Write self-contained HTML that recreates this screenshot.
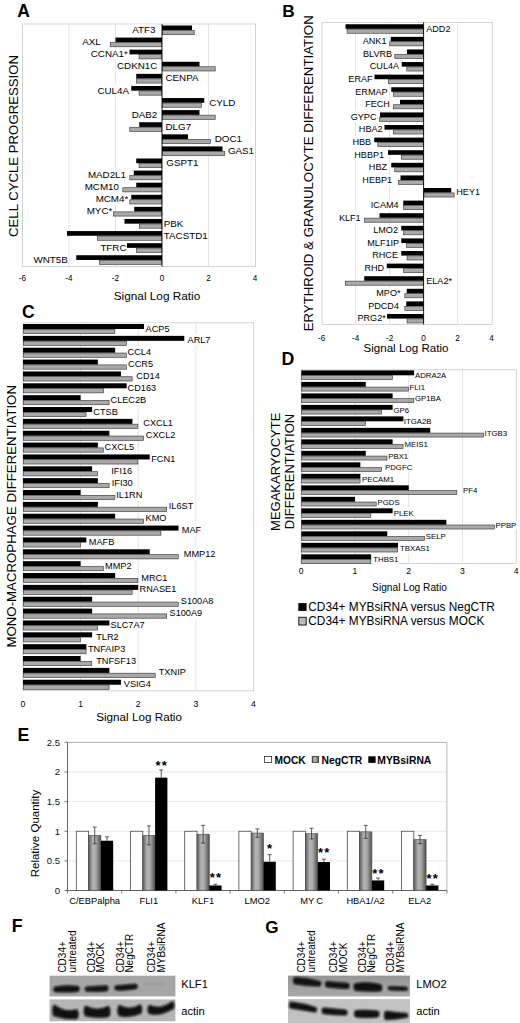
<!DOCTYPE html>
<html><head><meta charset="utf-8"><title>Figure</title>
<style>
html,body{margin:0;padding:0;background:#fff;}
body{width:520px;height:1023px;overflow:hidden;}
svg{display:block;font-family:"Liberation Sans",sans-serif;}
text{stroke:none;}
text[font-weight="bold"]{stroke:none;}
</style></head><body>
<svg width="520" height="1023" viewBox="0 0 520 1023">
<defs>
<linearGradient id="gg" x1="0" y1="0" x2="1" y2="0">
<stop offset="0" stop-color="#5a5a5a"/><stop offset="0.35" stop-color="#b4b4b4"/><stop offset="0.6" stop-color="#a8a8a8"/><stop offset="1" stop-color="#505050"/>
</linearGradient>
<filter id="blur" x="-30%" y="-100%" width="160%" height="300%"><feGaussianBlur stdDeviation="1.1"/></filter>
<linearGradient id="gb1" x1="0" y1="0" x2="0" y2="1"><stop offset="0" stop-color="#959595"/><stop offset="0.5" stop-color="#a2a2a2"/><stop offset="1" stop-color="#a8a8a8"/></linearGradient>
</defs>
<rect width="520" height="1023" fill="#fff"/>
<rect x="22.6" y="24" width="233" height="242.5" fill="none" stroke="#c8c8c8" stroke-width="0.8"/>
<line x1="69" y1="24" x2="69" y2="266.5" stroke="#dcdcdc" stroke-width="0.8"/>
<line x1="115.5" y1="24" x2="115.5" y2="266.5" stroke="#dcdcdc" stroke-width="0.8"/>
<line x1="208.5" y1="24" x2="208.5" y2="266.5" stroke="#dcdcdc" stroke-width="0.8"/>
<rect x="131.87" y="23.79" width="23.83" height="12.25" fill="#fff"/>
<rect x="81.98" y="35.88" width="19.12" height="12.25" fill="#fff"/>
<rect x="90.47" y="47.97" width="37.63" height="12.25" fill="#fff"/>
<rect x="116.7" y="60.07" width="40.9" height="12.25" fill="#fff"/>
<rect x="165.2" y="72.16" width="33.64" height="12.25" fill="#fff"/>
<rect x="97.11" y="84.25" width="32.19" height="12.25" fill="#fff"/>
<rect x="208.9" y="96.34" width="26.74" height="12.25" fill="#fff"/>
<rect x="131.4" y="108.43" width="26.2" height="12.25" fill="#fff"/>
<rect x="165.2" y="120.53" width="26.2" height="12.25" fill="#fff"/>
<rect x="214.5" y="132.62" width="27.83" height="12.25" fill="#fff"/>
<rect x="227.6" y="144.71" width="26.75" height="12.25" fill="#fff"/>
<rect x="166" y="156.8" width="32.73" height="12.25" fill="#fff"/>
<rect x="87.57" y="168.9" width="38.73" height="12.25" fill="#fff"/>
<rect x="84.4" y="180.99" width="34.9" height="12.25" fill="#fff"/>
<rect x="95.33" y="193.08" width="33.27" height="12.25" fill="#fff"/>
<rect x="86.41" y="205.17" width="26.19" height="12.25" fill="#fff"/>
<rect x="163.5" y="217.26" width="20.21" height="12.25" fill="#fff"/>
<rect x="163.5" y="229.36" width="44.52" height="12.25" fill="#fff"/>
<rect x="100.07" y="241.45" width="26.73" height="12.25" fill="#fff"/>
<rect x="33.2" y="253.54" width="34.9" height="12.25" fill="#fff"/>
<rect x="162" y="25.5" width="30" height="4.7" fill="#000"/>
<rect x="162.3" y="30.5" width="31.9" height="4.2" fill="#a9a9a9" stroke="#303030" stroke-width="0.6"/>
<text x="155.4" y="33.1" font-size="9.8" text-anchor="end">ATF3</text>
<rect x="115.5" y="37.59" width="46.5" height="4.7" fill="#000"/>
<rect x="110.3" y="42.59" width="51.4" height="4.2" fill="#a9a9a9" stroke="#303030" stroke-width="0.6"/>
<text x="100.8" y="45.19" font-size="9.8" text-anchor="end">AXL</text>
<rect x="129.5" y="49.68" width="32.5" height="4.7" fill="#000"/>
<rect x="139.05" y="54.68" width="22.65" height="4.2" fill="#a9a9a9" stroke="#303030" stroke-width="0.6"/>
<text x="127.8" y="57.28" font-size="9.8" text-anchor="end">CCNA1*</text>
<rect x="162" y="61.78" width="37.5" height="4.7" fill="#000"/>
<rect x="162.3" y="66.78" width="52.9" height="4.2" fill="#a9a9a9" stroke="#303030" stroke-width="0.6"/>
<text x="157.3" y="69.38" font-size="9.8" text-anchor="end">CDKN1C</text>
<rect x="136.25" y="73.87" width="25.75" height="4.7" fill="#000"/>
<rect x="136.3" y="78.87" width="25.4" height="4.2" fill="#a9a9a9" stroke="#303030" stroke-width="0.6"/>
<text x="165.5" y="81.47" font-size="9.8">CENPA</text>
<rect x="131.25" y="85.96" width="30.75" height="4.7" fill="#000"/>
<rect x="139.05" y="90.96" width="22.65" height="4.2" fill="#a9a9a9" stroke="#303030" stroke-width="0.6"/>
<text x="129" y="93.56" font-size="9.8" text-anchor="end">CUL4A</text>
<rect x="162" y="98.05" width="42.25" height="4.7" fill="#000"/>
<rect x="162.3" y="103.05" width="39.15" height="4.2" fill="#a9a9a9" stroke="#303030" stroke-width="0.6"/>
<text x="209.2" y="105.65" font-size="9.8">CYLD</text>
<rect x="162" y="110.14" width="37.5" height="4.7" fill="#000"/>
<rect x="162.3" y="115.14" width="52.9" height="4.2" fill="#a9a9a9" stroke="#303030" stroke-width="0.6"/>
<text x="157.3" y="117.74" font-size="9.8" text-anchor="end">DAB2</text>
<rect x="139.25" y="122.24" width="22.75" height="4.7" fill="#000"/>
<rect x="129.8" y="127.24" width="31.9" height="4.2" fill="#a9a9a9" stroke="#303030" stroke-width="0.6"/>
<text x="165.5" y="129.84" font-size="9.8">DLG7</text>
<rect x="162" y="134.33" width="26" height="4.7" fill="#000"/>
<rect x="162.3" y="139.33" width="48.15" height="4.2" fill="#a9a9a9" stroke="#303030" stroke-width="0.6"/>
<text x="214.8" y="141.93" font-size="9.8">DOC1</text>
<rect x="162" y="146.42" width="60.5" height="4.7" fill="#000"/>
<rect x="162.3" y="151.42" width="62.4" height="4.2" fill="#a9a9a9" stroke="#303030" stroke-width="0.6"/>
<text x="227.9" y="154.02" font-size="9.8">GAS1</text>
<rect x="136.25" y="158.51" width="25.75" height="4.7" fill="#000"/>
<rect x="139.05" y="163.51" width="22.65" height="4.2" fill="#a9a9a9" stroke="#303030" stroke-width="0.6"/>
<text x="166.3" y="166.11" font-size="9.8">GSPT1</text>
<rect x="133.75" y="170.61" width="28.25" height="4.7" fill="#000"/>
<rect x="129.8" y="175.61" width="31.9" height="4.2" fill="#a9a9a9" stroke="#303030" stroke-width="0.6"/>
<text x="126" y="178.21" font-size="9.8" text-anchor="end">MAD2L1</text>
<rect x="136.25" y="182.7" width="25.75" height="4.7" fill="#000"/>
<rect x="122.8" y="187.7" width="38.9" height="4.2" fill="#a9a9a9" stroke="#303030" stroke-width="0.6"/>
<text x="119" y="190.3" font-size="9.8" text-anchor="end">MCM10</text>
<rect x="131.25" y="194.79" width="30.75" height="4.7" fill="#000"/>
<rect x="129.8" y="199.79" width="31.9" height="4.2" fill="#a9a9a9" stroke="#303030" stroke-width="0.6"/>
<text x="128.3" y="202.39" font-size="9.8" text-anchor="end">MCM4*</text>
<rect x="134.25" y="206.88" width="27.75" height="4.7" fill="#000"/>
<rect x="113.3" y="211.88" width="48.4" height="4.2" fill="#a9a9a9" stroke="#303030" stroke-width="0.6"/>
<text x="112.3" y="214.48" font-size="9.8" text-anchor="end">MYC*</text>
<rect x="124.5" y="218.97" width="37.5" height="4.7" fill="#000"/>
<rect x="139.3" y="223.97" width="22.4" height="4.2" fill="#a9a9a9" stroke="#303030" stroke-width="0.6"/>
<text x="163.8" y="226.57" font-size="9.8">PBK</text>
<rect x="67" y="231.07" width="95" height="4.7" fill="#000"/>
<rect x="97.3" y="236.07" width="64.4" height="4.2" fill="#a9a9a9" stroke="#303030" stroke-width="0.6"/>
<text x="163.8" y="238.67" font-size="9.8">TACSTD1</text>
<rect x="127" y="243.16" width="35" height="4.7" fill="#000"/>
<rect x="136.55" y="248.16" width="25.15" height="4.2" fill="#a9a9a9" stroke="#303030" stroke-width="0.6"/>
<text x="126.5" y="250.76" font-size="9.8" text-anchor="end">TFRC</text>
<rect x="76.25" y="255.25" width="85.75" height="4.7" fill="#000"/>
<rect x="99.55" y="260.25" width="62.15" height="4.2" fill="#a9a9a9" stroke="#303030" stroke-width="0.6"/>
<text x="67.8" y="262.85" font-size="9.8" text-anchor="end">WNT5B</text>
<line x1="162" y1="24" x2="162" y2="266.5" stroke="#000" stroke-width="0.9"/>
<text x="22.5" y="281.2" font-size="8.2" text-anchor="middle">-6</text>
<text x="69" y="281.2" font-size="8.2" text-anchor="middle">-4</text>
<text x="115.5" y="281.2" font-size="8.2" text-anchor="middle">-2</text>
<text x="162" y="281.2" font-size="8.2" text-anchor="middle">0</text>
<text x="208.5" y="281.2" font-size="8.2" text-anchor="middle">2</text>
<text x="255" y="281.2" font-size="8.2" text-anchor="middle">4</text>
<text x="157" y="300" font-size="11.8" text-anchor="middle">Signal Log Ratio</text>
<text x="18.2" y="146" font-size="13.2" text-anchor="middle" transform="rotate(-90 18.2 146)">CELL CYCLE PROGRESSION</text>
<text x="17.3" y="16.8" font-size="17.5" font-weight="bold">A</text>
<rect x="322" y="22.4" width="170.2" height="302.1" fill="none" stroke="#c8c8c8" stroke-width="0.8"/>
<line x1="355.6" y1="22.4" x2="355.6" y2="324.5" stroke="#dcdcdc" stroke-width="0.8"/>
<line x1="389.6" y1="22.4" x2="389.6" y2="324.5" stroke="#dcdcdc" stroke-width="0.8"/>
<line x1="457.6" y1="22.4" x2="457.6" y2="324.5" stroke="#dcdcdc" stroke-width="0.8"/>
<rect x="425.9" y="22.91" width="24.87" height="11.38" fill="#fff"/>
<rect x="362.43" y="35.5" width="24.37" height="11.38" fill="#fff"/>
<rect x="362.73" y="48.1" width="29.77" height="11.38" fill="#fff"/>
<rect x="369.47" y="60.7" width="29.93" height="11.38" fill="#fff"/>
<rect x="348.03" y="73.3" width="24.87" height="11.38" fill="#fff"/>
<rect x="354.94" y="85.89" width="32.96" height="11.38" fill="#fff"/>
<rect x="364.83" y="98.49" width="25.37" height="11.38" fill="#fff"/>
<rect x="350.41" y="111.09" width="26.39" height="11.38" fill="#fff"/>
<rect x="358.53" y="123.69" width="24.37" height="11.38" fill="#fff"/>
<rect x="352.09" y="136.29" width="19.31" height="11.38" fill="#fff"/>
<rect x="353.96" y="148.88" width="30.44" height="11.38" fill="#fff"/>
<rect x="368.5" y="161.48" width="18.8" height="11.38" fill="#fff"/>
<rect x="362.06" y="174.08" width="30.44" height="11.38" fill="#fff"/>
<rect x="456" y="186.68" width="24.37" height="11.38" fill="#fff"/>
<rect x="370.49" y="199.27" width="28.41" height="11.38" fill="#fff"/>
<rect x="338.65" y="211.87" width="22.35" height="11.38" fill="#fff"/>
<rect x="372.92" y="224.47" width="25.38" height="11.38" fill="#fff"/>
<rect x="366.94" y="237.07" width="32.46" height="11.38" fill="#fff"/>
<rect x="371.91" y="249.67" width="26.39" height="11.38" fill="#fff"/>
<rect x="364.08" y="262.26" width="20.32" height="11.38" fill="#fff"/>
<rect x="425.9" y="274.86" width="26.4" height="11.38" fill="#fff"/>
<rect x="375.93" y="287.46" width="24.87" height="11.38" fill="#fff"/>
<rect x="367.85" y="300.06" width="31.45" height="11.38" fill="#fff"/>
<rect x="357.18" y="312.66" width="28.92" height="11.38" fill="#fff"/>
<rect x="345.5" y="24.25" width="78.1" height="4.6" fill="#000"/>
<rect x="347.05" y="29.15" width="76.25" height="4.1" fill="#a9a9a9" stroke="#303030" stroke-width="0.6"/>
<text x="426.2" y="31.55" font-size="9.1">ADD2</text>
<rect x="390.75" y="36.85" width="32.85" height="4.6" fill="#000"/>
<rect x="389.8" y="41.75" width="33.5" height="4.1" fill="#a9a9a9" stroke="#303030" stroke-width="0.6"/>
<text x="386.5" y="44.15" font-size="9.1" text-anchor="end">ANK1</text>
<rect x="407" y="49.45" width="16.6" height="4.6" fill="#000"/>
<rect x="394.8" y="54.35" width="28.5" height="4.1" fill="#a9a9a9" stroke="#303030" stroke-width="0.6"/>
<text x="392.2" y="56.75" font-size="9.1" text-anchor="end">BLVRB</text>
<rect x="401.75" y="62.04" width="21.85" height="4.6" fill="#000"/>
<rect x="406.8" y="66.94" width="16.5" height="4.1" fill="#a9a9a9" stroke="#303030" stroke-width="0.6"/>
<text x="399.1" y="69.34" font-size="9.1" text-anchor="end">CUL4A</text>
<rect x="374.5" y="74.64" width="49.1" height="4.6" fill="#000"/>
<rect x="388.3" y="79.54" width="35" height="4.1" fill="#a9a9a9" stroke="#303030" stroke-width="0.6"/>
<text x="372.6" y="81.94" font-size="9.1" text-anchor="end">ERAF</text>
<rect x="391.25" y="87.24" width="32.35" height="4.6" fill="#000"/>
<rect x="393.55" y="92.14" width="29.75" height="4.1" fill="#a9a9a9" stroke="#303030" stroke-width="0.6"/>
<text x="387.6" y="94.54" font-size="9.1" text-anchor="end">ERMAP</text>
<rect x="400" y="99.84" width="23.6" height="4.6" fill="#000"/>
<rect x="393.55" y="104.74" width="29.75" height="4.1" fill="#a9a9a9" stroke="#303030" stroke-width="0.6"/>
<text x="389.9" y="107.14" font-size="9.1" text-anchor="end">FECH</text>
<rect x="380" y="112.43" width="43.6" height="4.6" fill="#000"/>
<rect x="379.55" y="117.33" width="43.75" height="4.1" fill="#a9a9a9" stroke="#303030" stroke-width="0.6"/>
<text x="376.5" y="119.73" font-size="9.1" text-anchor="end">GYPC</text>
<rect x="384.5" y="125.03" width="39.1" height="4.6" fill="#000"/>
<rect x="393.55" y="129.93" width="29.75" height="4.1" fill="#a9a9a9" stroke="#303030" stroke-width="0.6"/>
<text x="382.6" y="132.33" font-size="9.1" text-anchor="end">HBA2</text>
<rect x="374.25" y="137.63" width="49.35" height="4.6" fill="#000"/>
<rect x="377.8" y="142.53" width="45.5" height="4.1" fill="#a9a9a9" stroke="#303030" stroke-width="0.6"/>
<text x="371.1" y="144.93" font-size="9.1" text-anchor="end">HBB</text>
<rect x="388" y="150.23" width="35.6" height="4.6" fill="#000"/>
<rect x="401.55" y="155.13" width="21.75" height="4.1" fill="#a9a9a9" stroke="#303030" stroke-width="0.6"/>
<text x="384.1" y="157.53" font-size="9.1" text-anchor="end">HBBP1</text>
<rect x="391.25" y="162.83" width="32.35" height="4.6" fill="#000"/>
<rect x="394.8" y="167.73" width="28.5" height="4.1" fill="#a9a9a9" stroke="#303030" stroke-width="0.6"/>
<text x="387" y="170.13" font-size="9.1" text-anchor="end">HBZ</text>
<rect x="400.5" y="175.42" width="23.1" height="4.6" fill="#000"/>
<rect x="398.3" y="180.32" width="25" height="4.1" fill="#a9a9a9" stroke="#303030" stroke-width="0.6"/>
<text x="392.2" y="182.72" font-size="9.1" text-anchor="end">HEBP1</text>
<rect x="423.6" y="188.02" width="27.65" height="4.6" fill="#000"/>
<rect x="423.9" y="192.92" width="30.3" height="4.1" fill="#a9a9a9" stroke="#303030" stroke-width="0.6"/>
<text x="456.3" y="195.32" font-size="9.1">HEY1</text>
<rect x="403.25" y="200.62" width="20.35" height="4.6" fill="#000"/>
<rect x="403.55" y="205.52" width="19.75" height="4.1" fill="#a9a9a9" stroke="#303030" stroke-width="0.6"/>
<text x="398.6" y="207.92" font-size="9.1" text-anchor="end">ICAM4</text>
<rect x="379.5" y="213.22" width="44.1" height="4.6" fill="#000"/>
<rect x="364.55" y="218.12" width="58.75" height="4.1" fill="#a9a9a9" stroke="#303030" stroke-width="0.6"/>
<text x="360.7" y="220.52" font-size="9.1" text-anchor="end">KLF1</text>
<rect x="401.25" y="225.82" width="22.35" height="4.6" fill="#000"/>
<rect x="403.3" y="230.72" width="20" height="4.1" fill="#a9a9a9" stroke="#303030" stroke-width="0.6"/>
<text x="398" y="233.12" font-size="9.1" text-anchor="end">LMO2</text>
<rect x="401.25" y="238.41" width="22.35" height="4.6" fill="#000"/>
<rect x="406.55" y="243.31" width="16.75" height="4.1" fill="#a9a9a9" stroke="#303030" stroke-width="0.6"/>
<text x="399.1" y="245.71" font-size="9.1" text-anchor="end">MLF1IP</text>
<rect x="401.25" y="251.01" width="22.35" height="4.6" fill="#000"/>
<rect x="407.05" y="255.91" width="16.25" height="4.1" fill="#a9a9a9" stroke="#303030" stroke-width="0.6"/>
<text x="398" y="258.31" font-size="9.1" text-anchor="end">RHCE</text>
<rect x="386.75" y="263.61" width="36.85" height="4.6" fill="#000"/>
<rect x="403.55" y="268.51" width="19.75" height="4.1" fill="#a9a9a9" stroke="#303030" stroke-width="0.6"/>
<text x="384.1" y="270.91" font-size="9.1" text-anchor="end">RHD</text>
<rect x="364.25" y="276.21" width="59.35" height="4.6" fill="#000"/>
<rect x="345.3" y="281.11" width="78" height="4.1" fill="#a9a9a9" stroke="#303030" stroke-width="0.6"/>
<text x="426.2" y="283.51" font-size="9.1">ELA2*</text>
<rect x="406.75" y="288.8" width="16.85" height="4.6" fill="#000"/>
<rect x="404.8" y="293.7" width="18.5" height="4.1" fill="#a9a9a9" stroke="#303030" stroke-width="0.6"/>
<text x="400.5" y="296.1" font-size="9.1" text-anchor="end">MPO*</text>
<rect x="406.25" y="301.4" width="17.35" height="4.6" fill="#000"/>
<rect x="404.8" y="306.3" width="18.5" height="4.1" fill="#a9a9a9" stroke="#303030" stroke-width="0.6"/>
<text x="399" y="308.7" font-size="9.1" text-anchor="end">PDCD4</text>
<rect x="387" y="314" width="36.6" height="4.6" fill="#000"/>
<rect x="407.05" y="318.9" width="16.25" height="4.1" fill="#a9a9a9" stroke="#303030" stroke-width="0.6"/>
<text x="385.8" y="321.3" font-size="9.1" text-anchor="end">PRG2*</text>
<line x1="423.6" y1="22.4" x2="423.6" y2="324.5" stroke="#000" stroke-width="0.9"/>
<text x="321.6" y="340.5" font-size="8.2" text-anchor="middle">-6</text>
<text x="355.6" y="340.5" font-size="8.2" text-anchor="middle">-4</text>
<text x="389.6" y="340.5" font-size="8.2" text-anchor="middle">-2</text>
<text x="423.6" y="340.5" font-size="8.2" text-anchor="middle">0</text>
<text x="457.6" y="340.5" font-size="8.2" text-anchor="middle">2</text>
<text x="491.6" y="340.5" font-size="8.2" text-anchor="middle">4</text>
<text x="406" y="351.6" font-size="11.6" text-anchor="middle">Signal Log Ratio</text>
<text x="313.3" y="173.3" font-size="13.25" text-anchor="middle" transform="rotate(-90 313.3 173.3)">ERYTHROID &amp; GRANULOCYTE DIFFERENTIATION</text>
<text x="282.2" y="17.3" font-size="17.3" font-weight="bold">B</text>
<rect x="23" y="322.8" width="230.6" height="368" fill="none" stroke="#c8c8c8" stroke-width="0.8"/>
<line x1="80.6" y1="322.8" x2="80.6" y2="690.8" stroke="#dcdcdc" stroke-width="0.8"/>
<line x1="138.2" y1="322.8" x2="138.2" y2="690.8" stroke="#dcdcdc" stroke-width="0.8"/>
<line x1="195.8" y1="322.8" x2="195.8" y2="690.8" stroke="#dcdcdc" stroke-width="0.8"/>
<rect x="145.2" y="322.76" width="24.63" height="11.5" fill="#fff"/>
<rect x="187.2" y="334.62" width="23.61" height="11.5" fill="#fff"/>
<rect x="127.2" y="346.48" width="24.12" height="11.5" fill="#fff"/>
<rect x="127.7" y="358.33" width="25.65" height="11.5" fill="#fff"/>
<rect x="135.95" y="370.19" width="24.12" height="11.5" fill="#fff"/>
<rect x="127.2" y="382.05" width="29.24" height="11.5" fill="#fff"/>
<rect x="110.2" y="393.91" width="36.39" height="11.5" fill="#fff"/>
<rect x="92.95" y="405.77" width="25.14" height="11.5" fill="#fff"/>
<rect x="142.95" y="417.63" width="30.26" height="11.5" fill="#fff"/>
<rect x="145.45" y="429.49" width="30.26" height="11.5" fill="#fff"/>
<rect x="104.2" y="441.34" width="30.26" height="11.5" fill="#fff"/>
<rect x="150.95" y="453.2" width="24.62" height="11.5" fill="#fff"/>
<rect x="110.95" y="465.06" width="21.56" height="11.5" fill="#fff"/>
<rect x="111.45" y="476.92" width="21.56" height="11.5" fill="#fff"/>
<rect x="115.95" y="488.78" width="26.68" height="11.5" fill="#fff"/>
<rect x="168.45" y="500.63" width="25.14" height="11.5" fill="#fff"/>
<rect x="145.2" y="512.49" width="21.56" height="11.5" fill="#fff"/>
<rect x="181.45" y="524.35" width="20.02" height="11.5" fill="#fff"/>
<rect x="88.45" y="536.21" width="26.16" height="11.5" fill="#fff"/>
<rect x="183.45" y="548.07" width="32.3" height="11.5" fill="#fff"/>
<rect x="104.7" y="559.93" width="27.18" height="11.5" fill="#fff"/>
<rect x="140.95" y="571.78" width="26.67" height="11.5" fill="#fff"/>
<rect x="139.2" y="583.64" width="37.41" height="11.5" fill="#fff"/>
<rect x="180.45" y="595.5" width="33.34" height="11.5" fill="#fff"/>
<rect x="169.2" y="607.36" width="33.34" height="11.5" fill="#fff"/>
<rect x="110.2" y="619.22" width="34.87" height="11.5" fill="#fff"/>
<rect x="95.95" y="631.08" width="23.1" height="11.5" fill="#fff"/>
<rect x="87.7" y="642.93" width="37.92" height="11.5" fill="#fff"/>
<rect x="95.95" y="654.79" width="40.47" height="11.5" fill="#fff"/>
<rect x="158.45" y="666.65" width="27.69" height="11.5" fill="#fff"/>
<rect x="123.45" y="678.51" width="27.7" height="11.5" fill="#fff"/>
<rect x="23" y="324" width="120.96" height="5" fill="#000"/>
<rect x="23.3" y="329.3" width="91.56" height="4.3" fill="#a9a9a9" stroke="#303030" stroke-width="0.6"/>
<text x="145.5" y="331.5" font-size="9.2">ACP5</text>
<rect x="23" y="335.86" width="161.28" height="5" fill="#000"/>
<rect x="23.3" y="341.16" width="103.08" height="4.3" fill="#a9a9a9" stroke="#303030" stroke-width="0.6"/>
<text x="187.5" y="343.36" font-size="9.2">ARL7</text>
<rect x="23" y="347.72" width="92.16" height="5" fill="#000"/>
<rect x="23.3" y="353.02" width="103.08" height="4.3" fill="#a9a9a9" stroke="#303030" stroke-width="0.6"/>
<text x="127.5" y="355.22" font-size="9.2">CCL4</text>
<rect x="23" y="359.57" width="74.88" height="5" fill="#000"/>
<rect x="23.3" y="364.88" width="103.08" height="4.3" fill="#a9a9a9" stroke="#303030" stroke-width="0.6"/>
<text x="128" y="367.07" font-size="9.2">CCR5</text>
<rect x="23" y="371.43" width="97.92" height="5" fill="#000"/>
<rect x="23.3" y="376.73" width="108.84" height="4.3" fill="#a9a9a9" stroke="#303030" stroke-width="0.6"/>
<text x="136.25" y="378.93" font-size="9.2">CD14</text>
<rect x="23" y="383.29" width="103.68" height="5" fill="#000"/>
<rect x="23.3" y="388.59" width="80.04" height="4.3" fill="#a9a9a9" stroke="#303030" stroke-width="0.6"/>
<text x="127.5" y="390.79" font-size="9.2">CD163</text>
<rect x="23" y="395.15" width="57.6" height="5" fill="#000"/>
<rect x="23.3" y="400.45" width="85.8" height="4.3" fill="#a9a9a9" stroke="#303030" stroke-width="0.6"/>
<text x="110.5" y="402.65" font-size="9.2">CLEC2B</text>
<rect x="23" y="407.01" width="69.12" height="5" fill="#000"/>
<rect x="23.3" y="412.31" width="62.76" height="4.3" fill="#a9a9a9" stroke="#303030" stroke-width="0.6"/>
<text x="93.25" y="414.51" font-size="9.2">CTSB</text>
<rect x="23" y="418.87" width="109.44" height="5" fill="#000"/>
<rect x="23.3" y="424.17" width="114.6" height="4.3" fill="#a9a9a9" stroke="#303030" stroke-width="0.6"/>
<text x="143.25" y="426.37" font-size="9.2">CXCL1</text>
<rect x="23" y="430.73" width="86.4" height="5" fill="#000"/>
<rect x="23.3" y="436.03" width="120.36" height="4.3" fill="#a9a9a9" stroke="#303030" stroke-width="0.6"/>
<text x="145.75" y="438.23" font-size="9.2">CXCL2</text>
<rect x="23" y="442.58" width="74.88" height="5" fill="#000"/>
<rect x="23.3" y="447.88" width="80.04" height="4.3" fill="#a9a9a9" stroke="#303030" stroke-width="0.6"/>
<text x="104.5" y="450.08" font-size="9.2">CXCL5</text>
<rect x="23" y="454.44" width="126.72" height="5" fill="#000"/>
<rect x="23.3" y="459.74" width="114.6" height="4.3" fill="#a9a9a9" stroke="#303030" stroke-width="0.6"/>
<text x="151.25" y="461.94" font-size="9.2">FCN1</text>
<rect x="23" y="466.3" width="69.12" height="5" fill="#000"/>
<rect x="23.3" y="471.6" width="74.28" height="4.3" fill="#a9a9a9" stroke="#303030" stroke-width="0.6"/>
<text x="111.25" y="473.8" font-size="9.2">IFI16</text>
<rect x="23" y="478.16" width="74.88" height="5" fill="#000"/>
<rect x="23.3" y="483.46" width="85.8" height="4.3" fill="#a9a9a9" stroke="#303030" stroke-width="0.6"/>
<text x="111.75" y="485.66" font-size="9.2">IFI30</text>
<rect x="23" y="490.02" width="57.6" height="5" fill="#000"/>
<rect x="23.3" y="495.32" width="91.56" height="4.3" fill="#a9a9a9" stroke="#303030" stroke-width="0.6"/>
<text x="116.25" y="497.52" font-size="9.2">IL1RN</text>
<rect x="23" y="501.88" width="74.88" height="5" fill="#000"/>
<rect x="23.3" y="507.18" width="143.4" height="4.3" fill="#a9a9a9" stroke="#303030" stroke-width="0.6"/>
<text x="168.75" y="509.38" font-size="9.2">IL6ST</text>
<rect x="23" y="513.73" width="92.16" height="5" fill="#000"/>
<rect x="23.3" y="519.03" width="120.36" height="4.3" fill="#a9a9a9" stroke="#303030" stroke-width="0.6"/>
<text x="145.5" y="521.23" font-size="9.2">KMO</text>
<rect x="23" y="525.59" width="155.52" height="5" fill="#000"/>
<rect x="23.3" y="530.89" width="137.64" height="4.3" fill="#a9a9a9" stroke="#303030" stroke-width="0.6"/>
<text x="181.75" y="533.09" font-size="9.2">MAF</text>
<rect x="23" y="537.45" width="63.36" height="5" fill="#000"/>
<rect x="23.3" y="542.75" width="57" height="4.3" fill="#a9a9a9" stroke="#303030" stroke-width="0.6"/>
<text x="88.75" y="544.95" font-size="9.2">MAFB</text>
<rect x="23" y="549.31" width="126.72" height="5" fill="#000"/>
<rect x="23.3" y="554.61" width="154.92" height="4.3" fill="#a9a9a9" stroke="#303030" stroke-width="0.6"/>
<text x="183.75" y="556.81" font-size="9.2">MMP12</text>
<rect x="23" y="561.17" width="57.6" height="5" fill="#000"/>
<rect x="23.3" y="566.47" width="80.04" height="4.3" fill="#a9a9a9" stroke="#303030" stroke-width="0.6"/>
<text x="105" y="568.67" font-size="9.2">MMP2</text>
<rect x="23" y="573.02" width="92.16" height="5" fill="#000"/>
<rect x="23.3" y="578.32" width="114.6" height="4.3" fill="#a9a9a9" stroke="#303030" stroke-width="0.6"/>
<text x="141.25" y="580.52" font-size="9.2">MRC1</text>
<rect x="23" y="584.88" width="115.2" height="5" fill="#000"/>
<rect x="23.3" y="590.18" width="108.84" height="4.3" fill="#a9a9a9" stroke="#303030" stroke-width="0.6"/>
<text x="139.5" y="592.38" font-size="9.2">RNASE1</text>
<rect x="23" y="596.74" width="69.12" height="5" fill="#000"/>
<rect x="23.3" y="602.04" width="154.92" height="4.3" fill="#a9a9a9" stroke="#303030" stroke-width="0.6"/>
<text x="180.75" y="604.24" font-size="9.2">S100A8</text>
<rect x="23" y="608.6" width="69.12" height="5" fill="#000"/>
<rect x="23.3" y="613.9" width="143.4" height="4.3" fill="#a9a9a9" stroke="#303030" stroke-width="0.6"/>
<text x="169.5" y="616.1" font-size="9.2">S100A9</text>
<rect x="23" y="620.46" width="86.4" height="5" fill="#000"/>
<rect x="23.3" y="625.76" width="74.28" height="4.3" fill="#a9a9a9" stroke="#303030" stroke-width="0.6"/>
<text x="110.5" y="627.96" font-size="9.2">SLC7A7</text>
<rect x="23" y="632.32" width="69.12" height="5" fill="#000"/>
<rect x="23.3" y="637.62" width="57" height="4.3" fill="#a9a9a9" stroke="#303030" stroke-width="0.6"/>
<text x="96.25" y="639.82" font-size="9.2">TLR2</text>
<rect x="23" y="644.17" width="63.36" height="5" fill="#000"/>
<rect x="23.3" y="649.47" width="62.76" height="4.3" fill="#a9a9a9" stroke="#303030" stroke-width="0.6"/>
<text x="88" y="651.67" font-size="9.2">TNFAIP3</text>
<rect x="23" y="656.03" width="57.6" height="5" fill="#000"/>
<rect x="23.3" y="661.33" width="68.52" height="4.3" fill="#a9a9a9" stroke="#303030" stroke-width="0.6"/>
<text x="96.25" y="663.53" font-size="9.2">TNFSF13</text>
<rect x="23" y="667.89" width="86.4" height="5" fill="#000"/>
<rect x="23.3" y="673.19" width="131.88" height="4.3" fill="#a9a9a9" stroke="#303030" stroke-width="0.6"/>
<text x="158.75" y="675.39" font-size="9.2">TXNIP</text>
<rect x="23" y="679.75" width="97.92" height="5" fill="#000"/>
<rect x="23.3" y="685.05" width="85.8" height="4.3" fill="#a9a9a9" stroke="#303030" stroke-width="0.6"/>
<text x="123.75" y="687.25" font-size="9.2">VSIG4</text>
<text x="23" y="707.3" font-size="8.6" text-anchor="middle">0</text>
<text x="80.6" y="707.3" font-size="8.6" text-anchor="middle">1</text>
<text x="138.2" y="707.3" font-size="8.6" text-anchor="middle">2</text>
<text x="195.8" y="707.3" font-size="8.6" text-anchor="middle">3</text>
<text x="253.4" y="707.3" font-size="8.6" text-anchor="middle">4</text>
<text x="139.1" y="721.3" font-size="11.7" text-anchor="middle">Signal Log Ratio</text>
<text x="16" y="516.3" font-size="13.25" text-anchor="middle" transform="rotate(-90 16 516.3)">MONO-MACROPHAGE DIFFERENTIATION</text>
<text x="22" y="318.4" font-size="17.6" font-weight="bold">C</text>
<rect x="301.25" y="369.8" width="215" height="193.8" fill="none" stroke="#c8c8c8" stroke-width="0.8"/>
<line x1="355" y1="369.8" x2="355" y2="563.6" stroke="#dcdcdc" stroke-width="0.8"/>
<line x1="408.75" y1="369.8" x2="408.75" y2="563.6" stroke="#dcdcdc" stroke-width="0.8"/>
<line x1="462.5" y1="369.8" x2="462.5" y2="563.6" stroke="#dcdcdc" stroke-width="0.8"/>
<rect x="414.7" y="370.99" width="31.81" height="9.75" fill="#fff"/>
<rect x="409.2" y="382.48" width="16.21" height="9.75" fill="#fff"/>
<rect x="414.7" y="393.98" width="26.61" height="9.75" fill="#fff"/>
<rect x="393.2" y="405.47" width="16.21" height="9.75" fill="#fff"/>
<rect x="403.45" y="416.96" width="28.34" height="9.75" fill="#fff"/>
<rect x="484.2" y="428.46" width="23.14" height="9.75" fill="#fff"/>
<rect x="404.2" y="439.95" width="24.01" height="9.75" fill="#fff"/>
<rect x="387.95" y="451.45" width="20.55" height="9.75" fill="#fff"/>
<rect x="384.7" y="462.94" width="27.9" height="9.75" fill="#fff"/>
<rect x="361.7" y="474.43" width="32.68" height="9.75" fill="#fff"/>
<rect x="462.7" y="485.93" width="14.9" height="9.75" fill="#fff"/>
<rect x="377.2" y="497.42" width="22.71" height="9.75" fill="#fff"/>
<rect x="393.45" y="508.91" width="20.55" height="9.75" fill="#fff"/>
<rect x="495.2" y="520.41" width="21.41" height="9.75" fill="#fff"/>
<rect x="425.45" y="531.9" width="20.55" height="9.75" fill="#fff"/>
<rect x="399.7" y="543.4" width="30.51" height="9.75" fill="#fff"/>
<rect x="372.95" y="554.89" width="25.74" height="9.75" fill="#fff"/>
<rect x="301.25" y="370.4" width="112.88" height="4.9" fill="#000"/>
<rect x="301.55" y="375.6" width="90.78" height="4" fill="#a9a9a9" stroke="#303030" stroke-width="0.6"/>
<text x="415" y="378.4" font-size="7.8">ADRA2A</text>
<rect x="301.25" y="381.89" width="64.5" height="4.9" fill="#000"/>
<rect x="301.55" y="387.09" width="106.9" height="4" fill="#a9a9a9" stroke="#303030" stroke-width="0.6"/>
<text x="409.5" y="389.89" font-size="7.8">FLI1</text>
<rect x="301.25" y="393.39" width="91.38" height="4.9" fill="#000"/>
<rect x="301.55" y="398.59" width="112.28" height="4" fill="#a9a9a9" stroke="#303030" stroke-width="0.6"/>
<text x="415" y="401.39" font-size="7.8">GP1BA</text>
<rect x="301.25" y="404.88" width="91.38" height="4.9" fill="#000"/>
<rect x="301.55" y="410.08" width="80.03" height="4" fill="#a9a9a9" stroke="#303030" stroke-width="0.6"/>
<text x="393.5" y="412.88" font-size="7.8">GP6</text>
<rect x="301.25" y="416.38" width="102.12" height="4.9" fill="#000"/>
<rect x="301.55" y="421.57" width="63.9" height="4" fill="#a9a9a9" stroke="#303030" stroke-width="0.6"/>
<text x="403.75" y="424.38" font-size="7.8">ITGA2B</text>
<rect x="301.25" y="427.87" width="129" height="4.9" fill="#000"/>
<rect x="301.55" y="433.07" width="182.15" height="4" fill="#a9a9a9" stroke="#303030" stroke-width="0.6"/>
<text x="484.5" y="435.87" font-size="7.8">ITGB3</text>
<rect x="301.25" y="439.36" width="91.38" height="4.9" fill="#000"/>
<rect x="301.55" y="444.56" width="101.53" height="4" fill="#a9a9a9" stroke="#303030" stroke-width="0.6"/>
<text x="404.5" y="447.36" font-size="7.8">MEIS1</text>
<rect x="301.25" y="450.86" width="64.5" height="4.9" fill="#000"/>
<rect x="301.55" y="456.06" width="85.4" height="4" fill="#a9a9a9" stroke="#303030" stroke-width="0.6"/>
<text x="388.25" y="458.86" font-size="7.8">PBX1</text>
<rect x="301.25" y="462.35" width="59.12" height="4.9" fill="#000"/>
<rect x="301.55" y="467.55" width="80.03" height="4" fill="#a9a9a9" stroke="#303030" stroke-width="0.6"/>
<text x="385" y="470.35" font-size="7.8">PDGFC</text>
<rect x="301.25" y="473.84" width="59.12" height="4.9" fill="#000"/>
<rect x="301.55" y="479.04" width="58.52" height="4" fill="#a9a9a9" stroke="#303030" stroke-width="0.6"/>
<text x="362" y="481.84" font-size="7.8">PECAM1</text>
<rect x="301.25" y="485.34" width="107.5" height="4.9" fill="#000"/>
<rect x="301.55" y="490.54" width="155.28" height="4" fill="#a9a9a9" stroke="#303030" stroke-width="0.6"/>
<text x="463" y="493.34" font-size="7.8">PF4</text>
<rect x="301.25" y="496.83" width="53.75" height="4.9" fill="#000"/>
<rect x="301.55" y="502.03" width="74.65" height="4" fill="#a9a9a9" stroke="#303030" stroke-width="0.6"/>
<text x="377.5" y="504.83" font-size="7.8">PGDS</text>
<rect x="301.25" y="508.32" width="91.38" height="4.9" fill="#000"/>
<rect x="301.55" y="513.52" width="69.28" height="4" fill="#a9a9a9" stroke="#303030" stroke-width="0.6"/>
<text x="393.75" y="516.32" font-size="7.8">PLEK</text>
<rect x="301.25" y="519.82" width="145.12" height="4.9" fill="#000"/>
<rect x="301.55" y="525.02" width="192.9" height="4" fill="#a9a9a9" stroke="#303030" stroke-width="0.6"/>
<text x="495.5" y="527.82" font-size="7.8">PPBP</text>
<rect x="301.25" y="531.31" width="86" height="4.9" fill="#000"/>
<rect x="301.55" y="536.51" width="123.03" height="4" fill="#a9a9a9" stroke="#303030" stroke-width="0.6"/>
<text x="425.75" y="539.31" font-size="7.8">SELP</text>
<rect x="301.25" y="542.81" width="96.75" height="4.9" fill="#000"/>
<rect x="301.55" y="548.01" width="96.15" height="4" fill="#a9a9a9" stroke="#303030" stroke-width="0.6"/>
<text x="400" y="550.81" font-size="7.8">TBXAS1</text>
<rect x="301.25" y="554.3" width="69.88" height="4.9" fill="#000"/>
<rect x="301.55" y="559.5" width="69.28" height="4" fill="#a9a9a9" stroke="#303030" stroke-width="0.6"/>
<text x="373.25" y="562.3" font-size="7.8">THBS1</text>
<text x="301.25" y="573.8" font-size="8.6" text-anchor="middle">0</text>
<text x="355" y="573.8" font-size="8.6" text-anchor="middle">1</text>
<text x="408.75" y="573.8" font-size="8.6" text-anchor="middle">2</text>
<text x="462.5" y="573.8" font-size="8.6" text-anchor="middle">3</text>
<text x="516.25" y="573.8" font-size="8.6" text-anchor="middle">4</text>
<text x="409.5" y="591.3" font-size="10.2" text-anchor="middle">Signal Log Ratio</text>
<text x="280.3" y="471.8" font-size="13" text-anchor="middle" transform="rotate(-90 280.3 471.8)">MEGAKARYOCYTE</text>
<text x="294.3" y="471.5" font-size="13" text-anchor="middle" transform="rotate(-90 294.3 471.5)">DIFFERENTIATION</text>
<text x="281.5" y="364.9" font-size="17.8" font-weight="bold">D</text>
<rect x="298.3" y="603.1" width="8.3" height="7.8" fill="#000"/>
<text x="308.3" y="611.2" font-size="11.85">CD34+ MYBsiRNA versus NegCTR</text>
<rect x="298.8" y="617.3" width="7.4" height="7.7" fill="#bcbcbc" stroke="#1a1a1a" stroke-width="1"/>
<text x="308.3" y="625.2" font-size="11.85">CD34+ MYBsiRNA versus MOCK</text>
<line x1="67.5" y1="860.88" x2="446.9" y2="860.88" stroke="#e2e2e2" stroke-width="0.8"/>
<line x1="67.5" y1="831.25" x2="446.9" y2="831.25" stroke="#e2e2e2" stroke-width="0.8"/>
<line x1="67.5" y1="801.62" x2="446.9" y2="801.62" stroke="#e2e2e2" stroke-width="0.8"/>
<line x1="67.5" y1="772" x2="446.9" y2="772" stroke="#e2e2e2" stroke-width="0.8"/>
<line x1="67.5" y1="742.38" x2="446.9" y2="742.38" stroke="#9a9a9a" stroke-width="0.8"/>
<line x1="446.9" y1="742.38" x2="446.9" y2="890.5" stroke="#ababab" stroke-width="0.8"/>
<line x1="67.5" y1="742.38" x2="67.5" y2="890.5" stroke="#555" stroke-width="0.9"/>
<line x1="67.5" y1="890.5" x2="446.9" y2="890.5" stroke="#555" stroke-width="0.9"/>
<line x1="64.5" y1="890.5" x2="67.5" y2="890.5" stroke="#555" stroke-width="0.8"/>
<text x="60" y="893.9" font-size="9.6" text-anchor="end" fill="#111">0</text>
<line x1="64.5" y1="860.88" x2="67.5" y2="860.88" stroke="#555" stroke-width="0.8"/>
<text x="60" y="864.27" font-size="9.6" text-anchor="end" fill="#111">0.5</text>
<line x1="64.5" y1="831.25" x2="67.5" y2="831.25" stroke="#555" stroke-width="0.8"/>
<text x="60" y="834.65" font-size="9.6" text-anchor="end" fill="#111">1</text>
<line x1="64.5" y1="801.62" x2="67.5" y2="801.62" stroke="#555" stroke-width="0.8"/>
<text x="60" y="805.02" font-size="9.6" text-anchor="end" fill="#111">1.5</text>
<line x1="64.5" y1="772" x2="67.5" y2="772" stroke="#555" stroke-width="0.8"/>
<text x="60" y="775.4" font-size="9.6" text-anchor="end" fill="#111">2</text>
<line x1="64.5" y1="742.38" x2="67.5" y2="742.38" stroke="#555" stroke-width="0.8"/>
<text x="60" y="745.77" font-size="9.6" text-anchor="end" fill="#111">2.5</text>
<line x1="67.5" y1="890.5" x2="67.5" y2="893.5" stroke="#555" stroke-width="0.8"/>
<line x1="121.7" y1="890.5" x2="121.7" y2="893.5" stroke="#555" stroke-width="0.8"/>
<line x1="175.9" y1="890.5" x2="175.9" y2="893.5" stroke="#555" stroke-width="0.8"/>
<line x1="230.1" y1="890.5" x2="230.1" y2="893.5" stroke="#555" stroke-width="0.8"/>
<line x1="284.3" y1="890.5" x2="284.3" y2="893.5" stroke="#555" stroke-width="0.8"/>
<line x1="338.5" y1="890.5" x2="338.5" y2="893.5" stroke="#555" stroke-width="0.8"/>
<line x1="392.7" y1="890.5" x2="392.7" y2="893.5" stroke="#555" stroke-width="0.8"/>
<line x1="446.9" y1="890.5" x2="446.9" y2="893.5" stroke="#555" stroke-width="0.8"/>
<text x="39" y="833.5" font-size="11.5" text-anchor="middle" transform="rotate(-90 39 833.5)">Relative Quantity</text>
<text x="17.6" y="740.8" font-size="17.7" font-weight="bold">E</text>
<rect x="76.3" y="831.25" width="12.3" height="59.25" fill="#fff" stroke="#4a4a4a" stroke-width="0.8"/>
<rect x="88.6" y="835.4" width="12.3" height="55.1" fill="url(#gg)" stroke="#4a4a4a" stroke-width="0.6"/>
<rect x="100.9" y="840.73" width="12.3" height="49.77" fill="#000"/>
<line x1="94.75" y1="827.1" x2="94.75" y2="843.69" stroke="#333" stroke-width="0.8"/>
<line x1="92.75" y1="827.1" x2="96.75" y2="827.1" stroke="#333" stroke-width="0.8"/>
<line x1="92.75" y1="843.69" x2="96.75" y2="843.69" stroke="#333" stroke-width="0.8"/>
<line x1="107.05" y1="836.82" x2="107.05" y2="840.73" stroke="#333" stroke-width="0.8"/>
<line x1="105.05" y1="836.82" x2="109.05" y2="836.82" stroke="#333" stroke-width="0.8"/>
<text x="94.6" y="904.4" font-size="9.35" text-anchor="middle">C/EBPalpha</text>
<rect x="130.5" y="831.25" width="12.3" height="59.25" fill="#fff" stroke="#4a4a4a" stroke-width="0.8"/>
<rect x="142.8" y="835.4" width="12.3" height="55.1" fill="url(#gg)" stroke="#4a4a4a" stroke-width="0.6"/>
<rect x="155.1" y="777.63" width="12.3" height="112.87" fill="#000"/>
<line x1="148.95" y1="825.92" x2="148.95" y2="844.88" stroke="#333" stroke-width="0.8"/>
<line x1="146.95" y1="825.92" x2="150.95" y2="825.92" stroke="#333" stroke-width="0.8"/>
<line x1="146.95" y1="844.88" x2="150.95" y2="844.88" stroke="#333" stroke-width="0.8"/>
<line x1="161.25" y1="769.93" x2="161.25" y2="777.63" stroke="#333" stroke-width="0.8"/>
<line x1="159.25" y1="769.93" x2="163.25" y2="769.93" stroke="#333" stroke-width="0.8"/>
<text x="161.75" y="770.2" font-size="13" text-anchor="middle" font-weight="bold" letter-spacing="1.2">**</text>
<text x="148.8" y="904.4" font-size="9.35" text-anchor="middle">FLI1</text>
<rect x="184.7" y="831.25" width="12.3" height="59.25" fill="#fff" stroke="#4a4a4a" stroke-width="0.8"/>
<rect x="197" y="834.21" width="12.3" height="56.29" fill="url(#gg)" stroke="#4a4a4a" stroke-width="0.6"/>
<rect x="209.3" y="885.46" width="12.3" height="5.04" fill="#000"/>
<line x1="203.15" y1="825.33" x2="203.15" y2="843.1" stroke="#333" stroke-width="0.8"/>
<line x1="201.15" y1="825.33" x2="205.15" y2="825.33" stroke="#333" stroke-width="0.8"/>
<line x1="201.15" y1="843.1" x2="205.15" y2="843.1" stroke="#333" stroke-width="0.8"/>
<line x1="215.45" y1="884.28" x2="215.45" y2="885.46" stroke="#333" stroke-width="0.8"/>
<line x1="213.45" y1="884.28" x2="217.45" y2="884.28" stroke="#333" stroke-width="0.8"/>
<text x="215.95" y="881.7" font-size="13" text-anchor="middle" font-weight="bold" letter-spacing="1.2">**</text>
<text x="203" y="904.4" font-size="9.35" text-anchor="middle">KLF1</text>
<rect x="238.9" y="831.25" width="12.3" height="59.25" fill="#fff" stroke="#4a4a4a" stroke-width="0.8"/>
<rect x="251.2" y="833.03" width="12.3" height="57.47" fill="url(#gg)" stroke="#4a4a4a" stroke-width="0.6"/>
<rect x="263.5" y="861.76" width="12.3" height="28.74" fill="#000"/>
<line x1="257.35" y1="828.88" x2="257.35" y2="837.17" stroke="#333" stroke-width="0.8"/>
<line x1="255.35" y1="828.88" x2="259.35" y2="828.88" stroke="#333" stroke-width="0.8"/>
<line x1="255.35" y1="837.17" x2="259.35" y2="837.17" stroke="#333" stroke-width="0.8"/>
<line x1="269.65" y1="854.65" x2="269.65" y2="861.76" stroke="#333" stroke-width="0.8"/>
<line x1="267.65" y1="854.65" x2="271.65" y2="854.65" stroke="#333" stroke-width="0.8"/>
<text x="270.15" y="852.7" font-size="13" text-anchor="middle" font-weight="bold" letter-spacing="1.2">*</text>
<text x="257.2" y="904.4" font-size="9.35" text-anchor="middle">LMO2</text>
<rect x="293.1" y="831.25" width="12.3" height="59.25" fill="#fff" stroke="#4a4a4a" stroke-width="0.8"/>
<rect x="305.4" y="833.62" width="12.3" height="56.88" fill="url(#gg)" stroke="#4a4a4a" stroke-width="0.6"/>
<rect x="317.7" y="862.06" width="12.3" height="28.44" fill="#000"/>
<line x1="311.55" y1="828.29" x2="311.55" y2="838.95" stroke="#333" stroke-width="0.8"/>
<line x1="309.55" y1="828.29" x2="313.55" y2="828.29" stroke="#333" stroke-width="0.8"/>
<line x1="309.55" y1="838.95" x2="313.55" y2="838.95" stroke="#333" stroke-width="0.8"/>
<line x1="323.85" y1="859.1" x2="323.85" y2="862.06" stroke="#333" stroke-width="0.8"/>
<line x1="321.85" y1="859.1" x2="325.85" y2="859.1" stroke="#333" stroke-width="0.8"/>
<text x="324.35" y="857.2" font-size="13" text-anchor="middle" font-weight="bold" letter-spacing="1.2">**</text>
<text x="311.6" y="904.4" font-size="9.35" text-anchor="middle">MY<tspan dx="1.8">C</tspan></text>
<rect x="347.3" y="831.25" width="12.3" height="59.25" fill="#fff" stroke="#4a4a4a" stroke-width="0.8"/>
<rect x="359.6" y="831.84" width="12.3" height="58.66" fill="url(#gg)" stroke="#4a4a4a" stroke-width="0.6"/>
<rect x="371.9" y="880.43" width="12.3" height="10.07" fill="#000"/>
<line x1="365.75" y1="825.33" x2="365.75" y2="838.36" stroke="#333" stroke-width="0.8"/>
<line x1="363.75" y1="825.33" x2="367.75" y2="825.33" stroke="#333" stroke-width="0.8"/>
<line x1="363.75" y1="838.36" x2="367.75" y2="838.36" stroke="#333" stroke-width="0.8"/>
<line x1="378.05" y1="878.06" x2="378.05" y2="880.43" stroke="#333" stroke-width="0.8"/>
<line x1="376.05" y1="878.06" x2="380.05" y2="878.06" stroke="#333" stroke-width="0.8"/>
<text x="378.55" y="877.7" font-size="13" text-anchor="middle" font-weight="bold" letter-spacing="1.2">**</text>
<text x="365.6" y="904.4" font-size="9.35" text-anchor="middle">HBA1/A2</text>
<rect x="401.5" y="831.25" width="12.3" height="59.25" fill="#fff" stroke="#4a4a4a" stroke-width="0.8"/>
<rect x="413.8" y="839.54" width="12.3" height="50.95" fill="url(#gg)" stroke="#4a4a4a" stroke-width="0.6"/>
<rect x="426.1" y="885.46" width="12.3" height="5.04" fill="#000"/>
<line x1="419.95" y1="835.4" x2="419.95" y2="843.69" stroke="#333" stroke-width="0.8"/>
<line x1="417.95" y1="835.4" x2="421.95" y2="835.4" stroke="#333" stroke-width="0.8"/>
<line x1="417.95" y1="843.69" x2="421.95" y2="843.69" stroke="#333" stroke-width="0.8"/>
<line x1="432.25" y1="884.28" x2="432.25" y2="885.46" stroke="#333" stroke-width="0.8"/>
<line x1="430.25" y1="884.28" x2="434.25" y2="884.28" stroke="#333" stroke-width="0.8"/>
<text x="432.75" y="882.7" font-size="13" text-anchor="middle" font-weight="bold" letter-spacing="1.2">**</text>
<text x="419.8" y="904.4" font-size="9.35" text-anchor="middle">ELA2</text>
<rect x="264.4" y="756.5" width="7.2" height="6" fill="#fff" stroke="#333" stroke-width="0.8"/>
<text x="274.6" y="763.6" font-size="10.2" font-weight="bold">MOCK</text>
<rect x="312.2" y="756.5" width="6.4" height="6" fill="url(#gg)" stroke="#333" stroke-width="0.8"/>
<text x="321.5" y="763.6" font-size="10.35" font-weight="bold">NegCTR</text>
<rect x="368.3" y="756.3" width="7.3" height="6.6" fill="#000"/>
<text x="377.3" y="763.6" font-size="10.35" font-weight="bold">MYBsiRNA</text>
<text x="11.8" y="932.3" font-size="17.7" font-weight="bold">F</text>
<text x="66.2" y="972.6" font-size="10" transform="rotate(-90 66.2 972.6)">CD34+</text>
<text x="76.2" y="972.6" font-size="10" transform="rotate(-90 76.2 972.6)">untreated</text>
<text x="94.6" y="972.6" font-size="10" transform="rotate(-90 94.6 972.6)">CD34+</text>
<text x="104.2" y="972.6" font-size="10" transform="rotate(-90 104.2 972.6)">MOCK</text>
<text x="123.8" y="972.6" font-size="10" transform="rotate(-90 123.8 972.6)">CD34+</text>
<text x="132.7" y="972.6" font-size="10" transform="rotate(-90 132.7 972.6)">NegCTR</text>
<text x="155" y="972.6" font-size="10" transform="rotate(-90 155 972.6)">CD34+</text>
<text x="165.3" y="972.6" font-size="10" transform="rotate(-90 165.3 972.6)">MYBsiRNA</text>
<rect x="49.5" y="975.7" width="125.9" height="20.7" fill="#a6a6a6"/>
<rect x="49.5" y="999.4" width="125.9" height="21.8" fill="#b5b5b5"/>
<path d="M55.8,986.4 Q66.45,984.7 77.1,985.8 Q79.6,985.8 79.6,988.9 Q79.6,992 77.1,992 Q66.45,993.1 55.8,992.2 Q53.3,992.2 53.3,989.3 Q53.3,986.4 55.8,986.4 Z" fill="#080808" fill-opacity="0.97" filter="url(#blur)"/>
<path d="M87.2,986.4 Q96.6,985.6 106,985.2 Q108.5,985.2 108.5,988.3 Q108.5,991.4 106,991.4 Q96.6,992.2 87.2,991.8 Q84.7,991.8 84.7,989.1 Q84.7,986.4 87.2,986.4 Z" fill="#080808" fill-opacity="0.95" filter="url(#blur)"/>
<path d="M116.9,985.2 Q126.05,984.35 135.2,983.7 Q137.7,983.7 137.7,986.45 Q137.7,989.2 135.2,989.2 Q126.05,991.15 116.9,990.5 Q114.4,990.5 114.4,987.85 Q114.4,985.2 116.9,985.2 Z" fill="#080808" fill-opacity="0.97" filter="url(#blur)"/>
<path d="M147.1,983.3 Q154.8,983.55 162.5,983.2 Q165,983.2 165,983.8 Q165,984.4 162.5,984.4 Q154.8,984.75 147.1,984.5 Q144.6,984.5 144.6,983.9 Q144.6,983.3 147.1,983.3 Z" fill="#080808" fill-opacity="0.15" filter="url(#blur)"/>
<path d="M54.8,1004.7 Q65.45,1012.65 76.1,1009.2 Q78.6,1009.2 78.6,1014.2 Q78.6,1019.2 76.1,1019.2 Q65.45,1019.9 54.8,1016.6 Q52.3,1016.6 52.3,1010.65 Q52.3,1004.7 54.8,1004.7 Z" fill="#080808" fill-opacity="0.98" filter="url(#blur)"/>
<path d="M86.2,1005.7 Q97.05,1011.75 107.9,1006 Q110.4,1006 110.4,1011.6 Q110.4,1017.2 107.9,1017.2 Q97.05,1018.6 86.2,1016.4 Q83.7,1016.4 83.7,1011.05 Q83.7,1005.7 86.2,1005.7 Z" fill="#080808" fill-opacity="0.98" filter="url(#blur)"/>
<path d="M119.9,1005 Q129.8,1010.7 139.7,1004.4 Q142.2,1004.4 142.2,1009.35 Q142.2,1014.3 139.7,1014.3 Q129.8,1018.55 119.9,1016.2 Q117.4,1016.2 117.4,1010.6 Q117.4,1005 119.9,1005 Z" fill="#080808" fill-opacity="0.98" filter="url(#blur)"/>
<path d="M150,1005 Q160.95,1009.7 171.9,1001.2 Q174.4,1001.2 174.4,1005.4 Q174.4,1009.6 171.9,1009.6 Q160.95,1016.7 150,1014.2 Q147.5,1014.2 147.5,1009.6 Q147.5,1005 150,1005 Z" fill="#080808" fill-opacity="0.98" filter="url(#blur)"/>
<text x="181.2" y="988.1" font-size="11.2">KLF1</text>
<text x="181.2" y="1014.5" font-size="11.2">actin</text>
<text x="265.3" y="932.5" font-size="17.2" font-weight="bold">G</text>
<text x="305.3" y="972.6" font-size="10" transform="rotate(-90 305.3 972.6)">CD34+</text>
<text x="315" y="972.6" font-size="10" transform="rotate(-90 315 972.6)">untreated</text>
<text x="337.3" y="972.6" font-size="10" transform="rotate(-90 337.3 972.6)">CD34+</text>
<text x="347.3" y="972.6" font-size="10" transform="rotate(-90 347.3 972.6)">MOCK</text>
<text x="366.2" y="972.6" font-size="10" transform="rotate(-90 366.2 972.6)">CD34+</text>
<text x="375.3" y="972.6" font-size="10" transform="rotate(-90 375.3 972.6)">NegCTR</text>
<text x="393.8" y="972.6" font-size="10" transform="rotate(-90 393.8 972.6)">CD34+</text>
<text x="403.8" y="972.6" font-size="10" transform="rotate(-90 403.8 972.6)">MYBsiRNA</text>
<rect x="288" y="975.6" width="121.9" height="20.8" fill="url(#gb1)"/>
<rect x="288" y="999.1" width="121.9" height="23.9" fill="#c2c2c2"/>
<path d="M295.5,977 Q307.15,977.1 318.8,980.8 Q321.3,980.8 321.3,983.7 Q321.3,986.6 318.8,986.6 Q307.15,986.4 295.5,984.6 Q293,984.6 293,980.8 Q293,977 295.5,977 Z" fill="#080808" fill-opacity="0.97" filter="url(#blur)"/>
<path d="M327.5,981 Q337.3,981.9 347.1,982.8 Q349.6,982.8 349.6,985.9 Q349.6,989 347.1,989 Q337.3,988.9 327.5,987.6 Q325,987.6 325,984.3 Q325,981 327.5,981 Z" fill="#080808" fill-opacity="0.97" filter="url(#blur)"/>
<path d="M356,983 Q367.85,981.35 379.7,983.9 Q382.2,983.9 382.2,987.75 Q382.2,991.6 379.7,991.6 Q367.85,991.9 356,991 Q353.5,991 353.5,987 Q353.5,983 356,983 Z" fill="#080808" fill-opacity="0.98" filter="url(#blur)"/>
<path d="M390.1,986.1 Q397.8,986.5 405.5,986.5 Q408,986.5 408,988.75 Q408,991 405.5,991 Q397.8,991.2 390.1,990.6 Q387.6,990.6 387.6,988.35 Q387.6,986.1 390.1,986.1 Z" fill="#080808" fill-opacity="0.95" filter="url(#blur)"/>
<path d="M291.5,1001.6 Q303,1003 314.5,1006.8 Q317,1006.8 317,1009.7 Q317,1012.6 314.5,1012.6 Q303,1010.5 291.5,1008.8 Q289,1008.8 289,1005.2 Q289,1001.6 291.5,1001.6 Z" fill="#080808" fill-opacity="0.97" filter="url(#blur)"/>
<path d="M324.1,1007.4 Q334.6,1008.4 345.1,1009.4 Q347.6,1009.4 347.6,1012.5 Q347.6,1015.6 345.1,1015.6 Q334.6,1015.3 324.1,1014.2 Q321.6,1014.2 321.6,1010.8 Q321.6,1007.4 324.1,1007.4 Z" fill="#080808" fill-opacity="0.97" filter="url(#blur)"/>
<path d="M356.5,1010 Q366.75,1009.6 377,1010.4 Q379.5,1010.4 379.5,1014 Q379.5,1017.6 377,1017.6 Q366.75,1018.6 356.5,1017.6 Q354,1017.6 354,1013.8 Q354,1010 356.5,1010 Z" fill="#080808" fill-opacity="0.97" filter="url(#blur)"/>
<path d="M386.5,1010.7 Q396.1,1012.05 405.7,1012.8 Q408.2,1012.8 408.2,1015.45 Q408.2,1018.1 405.7,1018.1 Q396.1,1020.1 386.5,1020.1 Q384,1020.1 384,1015.4 Q384,1010.7 386.5,1010.7 Z" fill="#080808" fill-opacity="0.97" filter="url(#blur)"/>
<text x="416.2" y="988.1" font-size="11.2">LMO2</text>
<text x="416.2" y="1015" font-size="11.2">actin</text>
</svg>
</body></html>
